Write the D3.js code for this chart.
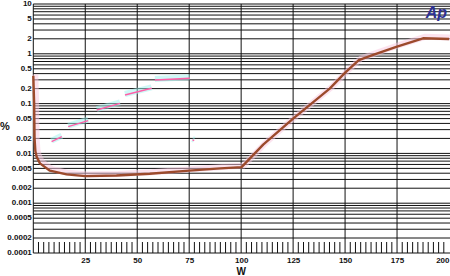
<!DOCTYPE html>
<html>
<head>
<meta charset="utf-8">
<script src="https://cdn.jsdelivr.net/npm/d3@7"></script>
<style>
  body{margin:0;background:#fff;}
  svg{display:block;}
  text{font-family:"Liberation Sans",Arial,sans-serif;font-weight:bold;fill:#111;}
</style>
</head>
<body>
<div id="chart"></div>
<script>
const WIDTH=450;
const HEIGHT=276;
const LEFT=33.3, RIGHT=449, TOP=4, BOTTOM=253;

//datos
const yLabels=[10,5,2,1,0.5,0.2,0.1,0.05,0.02,0.01,0.005,0.002,0.001,0.0005,0.0002,0.0001];
const xLabels=[25,50,75,100,125,150,175,200];
const thdW  =[0,0.4,0.6,1,1.6,3.2,8,16,25,40,56,75,90,100.2,110.6,125,142.6,149.8,156.6,163.5,175,187.5,200];
const thdPct=[0.36,0.1,0.02,0.011,0.0086,0.0063,0.0045,0.0038,0.0035,0.0036,0.0039,0.0045,0.005,0.0053,0.015,0.05,0.2,0.41,0.75,0.95,1.4,2.05,1.98];
// restos de la otra traza (casi borrada)
const ghostW  =[[8.8,13.7],[16.8,26.4],[30.5,41.7],[44.1,56.9],[58.5,75.3],[76.6,77.4]];
const ghostPct=[[0.0172,0.0216],[0.0344,0.0454],[0.0743,0.101],[0.149,0.203],[0.298,0.322],[0.0186,0.0180]];

const x=d3.scaleLinear().domain([0,200]).range([LEFT,RIGHT]);
const y=d3.scaleLog().domain([0.0001,10]).range([BOTTOM,TOP]);

const svg=d3
    .select("#chart")
    .append("svg")
    .attr("width",WIDTH)
    .attr("height",HEIGHT);

//rejilla horizontal
svg.append("g")
    .selectAll("line")
    .data(y.ticks())
    .enter()
    .append("line")
    .attr("x1",LEFT)
    .attr("x2",WIDTH)
    .attr("y1",d=>y(d))
    .attr("y2",d=>y(d))
    .attr("stroke","#111")
    .attr("stroke-width",1);

//rejilla vertical
svg.append("g")
    .selectAll("line")
    .data([0].concat(xLabels.slice(0,-1)))
    .enter()
    .append("line")
    .attr("x1",d=>x(d))
    .attr("x2",d=>x(d))
    .attr("y1",TOP)
    .attr("y2",BOTTOM)
    .attr("stroke","#111")
    .attr("stroke-width",1);

//marcas menores abajo
svg.append("g")
    .selectAll("line")
    .data(d3.range(2.5,200,2.5).filter(d=>d%25!==0))
    .enter()
    .append("line")
    .attr("x1",d=>x(d))
    .attr("x2",d=>x(d))
    .attr("y1",BOTTOM-11)
    .attr("y2",BOTTOM)
    .attr("stroke","#111")
    .attr("stroke-width",1);

//ejes
const yAxis=svg.append("g")
    .attr("transform",`translate(${LEFT},0)`)
    .call(d3.axisLeft(y).tickValues(yLabels).tickSize(0).tickPadding(1.5).tickFormat(d=>String(d)));
yAxis.select(".domain").remove();
yAxis.selectAll("text").attr("dy","0.2em").style("font-size","8px");

const xAxis=svg.append("g")
    .attr("transform",`translate(0,${BOTTOM})`)
    .call(d3.axisBottom(x).tickValues(xLabels).tickSize(0).tickPadding(4.8));
xAxis.select(".domain").remove();
xAxis.selectAll("text").style("font-size","8px")
    .attr("text-anchor",d=>d===200?"end":"middle");

svg.append("text")
    .attr("x",0)
    .attr("y",130)
    .style("font-size","11px")
    .text("%");

svg.append("text")
    .attr("x",x(100))
    .attr("y",275)
    .attr("text-anchor","middle")
    .style("font-size","10px")
    .text("W");

//traza fantasma
const ghost=svg.append("g");
ghostW.forEach((w,i)=>{
    ghost.append("line")
        .attr("x1",x(w[0])).attr("x2",x(w[1]))
        .attr("y1",y(ghostPct[i][0])-1).attr("y2",y(ghostPct[i][1])-1)
        .attr("stroke","#9ff3ef").attr("stroke-width",6).attr("opacity",0.5);
    ghost.append("line")
        .attr("x1",x(w[0])).attr("x2",x(w[1]))
        .attr("y1",y(ghostPct[i][0])).attr("y2",y(ghostPct[i][1]))
        .attr("stroke","#ff5fa8").attr("stroke-width",1.4);
});

//curva principal
const pts=thdW.map((w,i)=>[w,thdPct[i]]);
const line=d3.line().x(d=>x(d[0])).y(d=>y(d[1]));

svg.append("path")
    .attr("d",line(pts))
    .attr("transform","translate(2,-1.5)")
    .attr("fill","none")
    .attr("stroke","#f9c8e0")
    .attr("stroke-width",6)
    .attr("opacity",0.5);

svg.append("path")
    .attr("d",line(pts))
    .attr("fill","none")
    .attr("stroke","#9c4a2c")
    .attr("stroke-width",2.4)
    .attr("stroke-linejoin","round");

//logo
svg.append("text")
    .attr("x",447)
    .attr("y",18)
    .attr("text-anchor","end")
    .style("font-size","16px")
    .style("font-style","italic")
    .style("fill","#2e3192")
    .text("Ap");
</script>
</body>
</html>
